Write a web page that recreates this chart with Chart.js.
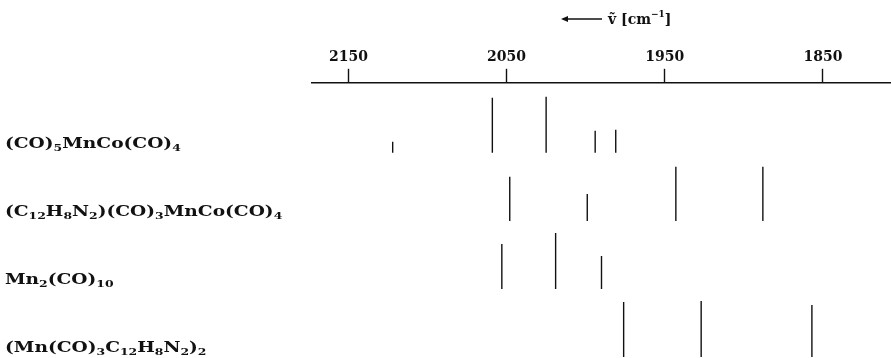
<!DOCTYPE html>
<html>
<head>
<meta charset="utf-8">
<script src="https://cdn.jsdelivr.net/npm/chart.js@4/dist/chart.umd.min.js"></script>
<style>
  html, body { margin: 0; padding: 0; background: #fff; }
  #wrap { position: relative; width: 891px; height: 358px; }
</style>
</head>
<body>
<div id="wrap"><canvas id="ir"></canvas></div>
<script>
// ── Data (wavenumbers in cm-1, relative band heights) ─────────────────────────
const compounds = [
  '(CO)_5MnCo(CO)_4',
  '(C_12H_8N_2)(CO)_3MnCo(CO)_4',
  'Mn_2(CO)_10',
  '(Mn(CO)_3C_12H_8N_2)_2'
];
const mnCoWave = [2122, 2059, 2025, 1994, 1981];
const mnCoInt = [11, 55, 56, 22, 23];
const phenMnCoWave = [2048, 1999, 1943, 1888];
const phenMnCoInt = [44, 27, 54, 54];
const mn2Wave = [2053, 2019, 1990];
const mn2Int = [45, 56, 33];
const phenMn2Wave = [1976, 1927, 1857];
const phenMn2Int = [55, 56, 52];
const axisTicks = [2150, 2050, 1950, 1850];

const WAVES = [mnCoWave, phenMnCoWave, mn2Wave, phenMn2Wave];
const INTS = [mnCoInt, phenMnCoInt, mn2Int, phenMn2Int];

// row baselines on the y scale (1 unit ~ 1px)
const ROW_BASES = [205, 137, 69, 1];
const FONT = '"DejaVu Serif", "Liberation Serif", serif';

// ── Build stick datasets ──────────────────────────────────────────────────────
function sticks(waves, ints, base) {
  const pts = [];
  waves.forEach((w, i) => {
    pts.push({ x: w, y: base });
    pts.push({ x: w, y: base + ints[i] });
    pts.push({ x: w, y: null });
  });
  return pts;
}

const datasets = compounds.map((name, i) => ({
  label: name,
  data: sticks(WAVES[i], INTS[i], ROW_BASES[i]),
  showLine: true,
  spanGaps: false,
  borderColor: '#111',
  borderWidth: 1.4,
  pointRadius: 0,
  pointHoverRadius: 0
}));

// ── Text with subscripts (digits after "_") ───────────────────────────────────
function drawFormula(ctx, text, x, y, size, sx) {
  const parts = text.split(/_(\d+)/);
  ctx.save();
  ctx.translate(x, y);
  ctx.scale(sx, 1);
  let cx = 0;
  parts.forEach((p, i) => {
    if (!p) return;
    const sub = i % 2 === 1;
    ctx.font = `bold ${sub ? Math.round(size * 0.68) : size}px ${FONT}`;
    ctx.fillText(p, cx, sub ? 3 : 0);
    cx += ctx.measureText(p).width;
  });
  ctx.restore();
}

const labelPlugin = {
  id: 'labels',
  afterDraw(chart) {
    const ctx = chart.ctx;
    const y = chart.scales.y;
    ctx.save();
    ctx.fillStyle = '#111';
    ctx.textBaseline = 'alphabetic';
    ctx.textAlign = 'left';
    compounds.forEach((name, i) => {
      drawFormula(ctx, name, 5, y.getPixelForValue(ROW_BASES[i]) - 5, 15, 1.24);
    });

    // axis title: arrow + wavenumber
    const tx = 561, ty = 24;
    ctx.lineWidth = 1.3;
    ctx.strokeStyle = '#111';
    ctx.beginPath();
    ctx.moveTo(tx + 2, ty - 5);
    ctx.lineTo(tx + 41, ty - 5);
    ctx.stroke();
    ctx.beginPath();
    ctx.moveTo(tx, ty - 5);
    ctx.lineTo(tx + 7, ty - 8);
    ctx.lineTo(tx + 7, ty - 2);
    ctx.closePath();
    ctx.fill();
    ctx.font = `bold 14px ${FONT}`;
    let cx = tx + 47;
    ctx.fillText('ṽ [cm', cx, ty);
    cx += ctx.measureText('ṽ [cm').width;
    ctx.font = `bold 9px ${FONT}`;
    ctx.fillText('−1', cx, ty - 7);
    cx += ctx.measureText('−1').width;
    ctx.font = `bold 14px ${FONT}`;
    ctx.fillText(']', cx, ty);
    ctx.restore();
  }
};

new Chart(document.getElementById('ir'), {
  type: 'scatter',
  data: { datasets },
  options: {
    responsive: true,
    maintainAspectRatio: false,
    animation: false,
    events: [],
    layout: { padding: { top: 46, left: 312, right: 0, bottom: 0 } },
    plugins: {
      legend: { display: false },
      tooltip: { enabled: false },
      title: { display: false }
    },
    scales: {
      x: {
        type: 'linear',
        position: 'top',
        reverse: true,
        min: 1807,
        max: 2173,
        afterBuildTicks: (scale) => { scale.ticks = axisTicks.map(v => ({ value: v })); },
        grid: { drawOnChartArea: false, drawTicks: true, tickLength: 14, tickColor: '#111', tickWidth: 1.4 },
        border: { display: true, color: '#111', width: 1.6 },
        ticks: {
          color: '#111',
          padding: 3,
          maxRotation: 0,
          font: { family: FONT, size: 14, weight: 'bold' },
          callback: (v) => String(v)
        }
      },
      y: {
        type: 'linear',
        display: false,
        min: 0,
        max: 275
      }
    }
  },
  plugins: [labelPlugin]
});
</script>
</body>
</html>
